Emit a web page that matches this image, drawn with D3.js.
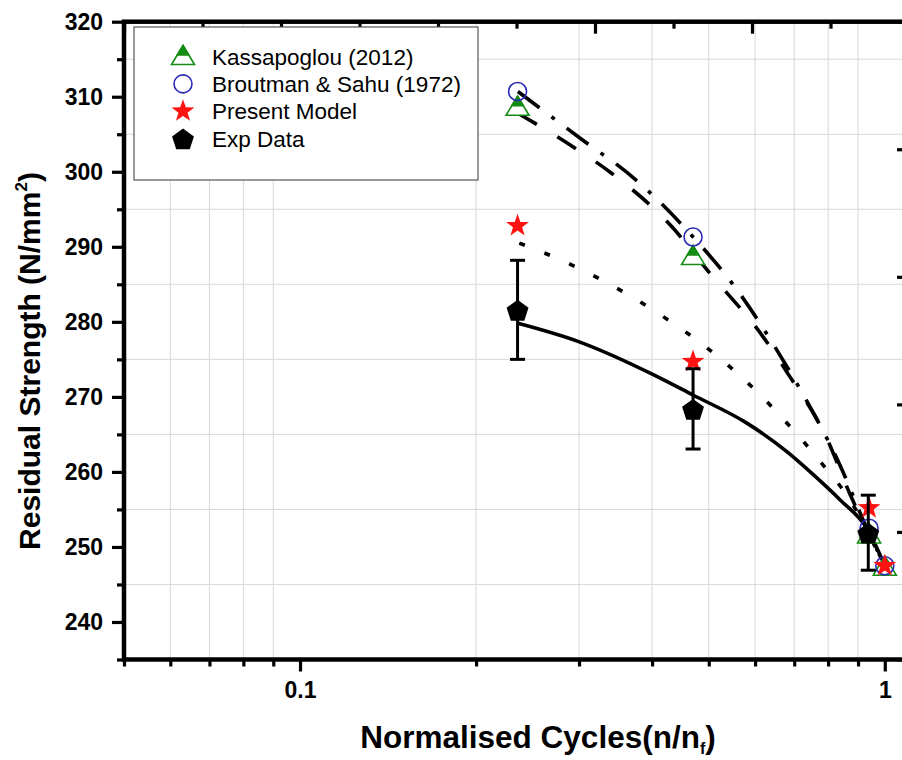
<!DOCTYPE html>
<html lang="en">
<head>
<meta charset="UTF-8">
<title>Residual Strength vs Normalised Cycles</title>
<script src="https://d3js.org/d3.v7.min.js"></script>
<style>
  body { margin: 0; background: #fff; }
  svg { display: block; }
  text { font-family: "Liberation Sans", Arial, sans-serif; }
  .grid line { stroke: #d8d8d8; stroke-width: 1; }
  .fit { fill: none; stroke: #000; stroke-width: 3.6; }
</style>
</head>
<body>
<svg width="902" height="760"></svg>
<script>
// ---- data ----
const seriesNames = ["Kassapoglou (2012)", "Broutman & Sahu (1972)", "Present Model", "Exp Data"];

const cycles = [0.2355, 0.47, 0.94, 1.0];
const kassapoglou = [308.6, 288.7, 251.6, 247.3];
const broutman = [310.7, 291.3, 252.5, 247.5];
const presentModel = [292.8, 274.7, 255.2, 247.5];

const expCycles = [0.2355, 0.47, 0.937];
const expData = [281.6, 268.4, 251.9];
const expError = [6.6, 5.35, 5.0];

// fitted curves (points sampled along the drawn lines)
const kassFitX = [0.2358, 0.2894, 0.341, 0.4321, 0.502, 0.6193, 0.688, 0.7935, 0.8713, 1.0];
const kassFitY = [307.8, 303.6, 299.8, 292.7, 286.5, 278.0, 272.7, 264.7, 257.1, 247.5];
const broutFitX = [0.2358, 0.301, 0.373, 0.4728, 0.5536, 0.6566, 0.7397, 0.836, 0.934, 1.0];
const broutFitY = [310.7, 304.5, 299.1, 291.1, 284.7, 276.0, 269.1, 261.1, 252.3, 247.5];
const modelFitX = [0.2371, 0.2894, 0.3534, 0.4178, 0.4989, 0.5877, 0.697, 0.779, 0.871, 1.0];
const modelFitY = [290.5, 287.7, 284.2, 280.7, 276.4, 271.6, 265.6, 261.2, 256.3, 247.5];
const expFitX = [0.2359, 0.301, 0.401, 0.4698, 0.581, 0.680, 0.753, 0.838, 0.935, 1.0];
const expFitY = [279.8, 277.3, 273.0, 270.25, 266.5, 262.7, 259.7, 256.3, 252.3, 247.5];

// axes
const xMajorTicks = [0.1, 1];
const xMinorTicks = [0.05, 0.06, 0.07, 0.08, 0.09, 0.2, 0.3, 0.4, 0.5, 0.6, 0.7, 0.8, 0.9];
const xGridTicks = [0.06, 0.07, 0.08, 0.09, 0.2, 0.3, 0.4, 0.5, 0.6, 0.7, 0.8, 0.9];
const yMajorTicks = [240, 250, 260, 270, 280, 290, 300, 310, 320];
const yMinorTicks = [235, 245, 255, 265, 275, 285, 295, 305, 315];

// ---- layout ----
const m = { left: 124, right: 909, top: 21.7, bottom: 659.5 };
const green = "#138c13", blue = "#2b2bb8", red = "#ff1212";

const svg = d3.select("svg");
svg.append("rect").attr("width", 902).attr("height", 760).attr("fill", "#fff");

const x = d3.scaleLog().domain([0.05, 1.1]).range([m.left, m.right]);
const y = d3.scaleLinear().domain([235, 320]).range([m.bottom, m.top]);
// secondary (mirror) axes on top and right
const xTop = d3.scaleLinear().domain([0, 10]).range([m.left, m.right]);
const yRight = d3.scaleLinear().domain([0, 10]).range([m.bottom, m.top]);

// grid
const grid = svg.append("g").attr("class", "grid");
grid.selectAll(".gx").data(xGridTicks).join("line")
    .attr("x1", d => x(d)).attr("x2", d => x(d))
    .attr("y1", m.top).attr("y2", m.bottom);
grid.selectAll(".gy").data(yMinorTicks.filter(d => d > 235)).join("line")
    .attr("x1", m.left).attr("x2", m.right)
    .attr("y1", d => y(d)).attr("y2", d => y(d));

function styleAxis(g) {
    g.select(".domain").remove();
    g.selectAll(".tick line").attr("stroke", "#000").attr("stroke-width", 3.2);
    g.selectAll("text").attr("font-size", 23).attr("font-weight", "bold").attr("fill", "#000")
        .attr("font-family", "'Liberation Sans', Arial, sans-serif");
}

// bottom
svg.append("g").attr("transform", `translate(0,${m.bottom})`)
    .call(d3.axisBottom(x).tickValues(xMinorTicks).tickSize(7).tickFormat(""))
    .call(styleAxis);
svg.append("g").attr("transform", `translate(0,${m.bottom})`)
    .call(d3.axisBottom(x).tickValues(xMajorTicks).tickSize(12).tickPadding(10)
        .tickFormat(d => d === 1 ? "1" : "0.1"))
    .call(styleAxis);
// left
svg.append("g").attr("transform", `translate(${m.left},0)`)
    .call(d3.axisLeft(y).tickValues(yMinorTicks).tickSize(7).tickFormat(""))
    .call(styleAxis);
svg.append("g").attr("transform", `translate(${m.left},0)`)
    .call(d3.axisLeft(y).tickValues(yMajorTicks).tickSize(12).tickPadding(9).tickFormat(d3.format("d")))
    .call(styleAxis);
// top (inward)
svg.append("g").attr("transform", `translate(0,${m.top})`)
    .call(d3.axisTop(xTop).tickValues(d3.range(1, 10, 2)).tickSize(-7).tickFormat(""))
    .call(styleAxis);
svg.append("g").attr("transform", `translate(0,${m.top})`)
    .call(d3.axisTop(xTop).tickValues(d3.range(0, 11, 2)).tickSize(-12).tickFormat(""))
    .call(styleAxis);
// right (inward)
svg.append("g").attr("transform", `translate(${m.right},0)`)
    .call(d3.axisRight(yRight).tickValues(d3.range(1, 10, 2)).tickSize(-7).tickFormat(""))
    .call(styleAxis);
svg.append("g").attr("transform", `translate(${m.right},0)`)
    .call(d3.axisRight(yRight).tickValues(d3.range(0, 11, 2)).tickSize(-12).tickFormat(""))
    .call(styleAxis);

// frame
svg.append("rect")
    .attr("x", m.left).attr("y", m.top)
    .attr("width", m.right - m.left).attr("height", m.bottom - m.top)
    .attr("fill", "none").attr("stroke", "#000").attr("stroke-width", 4.5);

// ---- fitted lines ----
const line = d3.line().x(d => x(d[0])).y(d => y(d[1])).curve(d3.curveMonotoneX);
const plot = svg.append("g");
plot.append("path").attr("class", "fit")
    .attr("d", line(d3.zip(kassFitX, kassFitY)))
    .attr("stroke-dasharray", "22 24");
plot.append("path").attr("class", "fit")
    .attr("d", line(d3.zip(broutFitX, broutFitY)))
    .attr("stroke-dasharray", "27 15 4 15");
plot.append("path").attr("class", "fit")
    .attr("d", line(d3.zip(modelFitX, modelFitY)))
    .attr("stroke-dasharray", "6 21");
plot.append("path").attr("class", "fit")
    .attr("d", line(d3.zip(expFitX, expFitY)));

// ---- symbols ----
function star(ro, ri) {
    const pts = [];
    for (let i = 0; i < 10; i++) {
        const a = -Math.PI / 2 + i * Math.PI / 5;
        const r = i % 2 ? ri : ro;
        pts.push([r * Math.cos(a), r * Math.sin(a)]);
    }
    return "M" + pts.map(p => p.join(",")).join("L") + "Z";
}
function pentagon(r) {
    const pts = [];
    for (let i = 0; i < 5; i++) {
        const a = -Math.PI / 2 + i * 2 * Math.PI / 5;
        pts.push([r * Math.cos(a), r * Math.sin(a) + 1.5]);
    }
    return "M" + pts.map(p => p.join(",")).join("L") + "Z";
}
const triOuter = "M0,-11L11.5,8L-11.5,8Z";
const triTop = "M0,-11L5.75,-1.5L-5.75,-1.5Z";

function drawTriangle(g) {
    g.append("path").attr("d", triOuter).attr("fill", "#fff")
        .attr("stroke", green).attr("stroke-width", 1.6);
    g.append("path").attr("d", triTop).attr("fill", green)
        .attr("stroke", green).attr("stroke-width", 1.6);
}
function drawCircle(g) {
    g.append("circle").attr("r", 9).attr("fill", "none")
        .attr("stroke", blue).attr("stroke-width", 1.6);
}
function drawStar(g) {
    g.append("path").attr("d", star(12, 4.8)).attr("fill", red);
}
function drawPentagon(g) {
    g.append("path").attr("d", pentagon(11.5)).attr("fill", "#000");
}

const pts = svg.append("g");
pts.selectAll(".tri").data(d3.zip(cycles, kassapoglou)).join("g")
    .attr("transform", d => `translate(${x(d[0])},${y(d[1])})`)
    .each(function () { drawTriangle(d3.select(this)); });
pts.selectAll(".circ").data(d3.zip(cycles, broutman)).join("g")
    .attr("transform", d => `translate(${x(d[0])},${y(d[1])})`)
    .each(function () { drawCircle(d3.select(this)); });
pts.selectAll(".star").data(d3.zip(cycles, presentModel)).join("g")
    .attr("transform", d => `translate(${x(d[0])},${y(d[1])})`)
    .each(function () { drawStar(d3.select(this)); });

// exp data with error bars
const exp = pts.selectAll(".exp").data(d3.zip(expCycles, expData, expError)).join("g");
exp.append("line")
    .attr("x1", d => x(d[0])).attr("x2", d => x(d[0]))
    .attr("y1", d => y(d[1] + d[2])).attr("y2", d => y(d[1] - d[2]))
    .attr("stroke", "#000").attr("stroke-width", 3);
exp.selectAll(".cap").data(d => [[d[0], d[1] + d[2]], [d[0], d[1] - d[2]]]).join("line")
    .attr("x1", d => x(d[0]) - 7.5).attr("x2", d => x(d[0]) + 7.5)
    .attr("y1", d => y(d[1])).attr("y2", d => y(d[1]))
    .attr("stroke", "#000").attr("stroke-width", 3);
exp.append("g")
    .attr("transform", d => `translate(${x(d[0])},${y(d[1])})`)
    .each(function () { drawPentagon(d3.select(this)); });

// ---- legend ----
const legend = svg.append("g");
legend.append("rect")
    .attr("x", 134).attr("y", 27).attr("width", 344).attr("height", 153)
    .attr("fill", "#fff").attr("stroke", "#555").attr("stroke-width", 1.2);
const drawers = [drawTriangle, drawCircle, drawStar, drawPentagon];
const legendY = d3.scalePoint().domain(seriesNames).range([56.5, 138.5]);
seriesNames.forEach((name, i) => {
    const g = legend.append("g").attr("transform", `translate(183,${legendY(name)})`);
    drawers[i](g);
    legend.append("text")
        .attr("x", 212).attr("y", legendY(name)).attr("dy", "0.36em")
        .attr("font-size", 22.5).attr("fill", "#000")
        .text(name);
});

// ---- axis titles ----
const xt = svg.append("text")
    .attr("x", 538).attr("y", 748).attr("text-anchor", "middle")
    .attr("font-size", 31.5).attr("font-weight", "bold");
xt.append("tspan").text("Normalised Cycles(n/n");
xt.append("tspan").attr("font-size", 16).attr("dy", 6).text("f");
xt.append("tspan").attr("dy", -6).text(")");

const yt = svg.append("text")
    .attr("transform", "translate(40,361) rotate(-90)")
    .attr("text-anchor", "middle")
    .attr("font-size", 30).attr("font-weight", "bold");
yt.append("tspan").text("Residual Strength (N/mm");
yt.append("tspan").attr("font-size", 17).attr("dy", -13).text("2");
yt.append("tspan").attr("dy", 13).text(")");
</script>
</body>
</html>
